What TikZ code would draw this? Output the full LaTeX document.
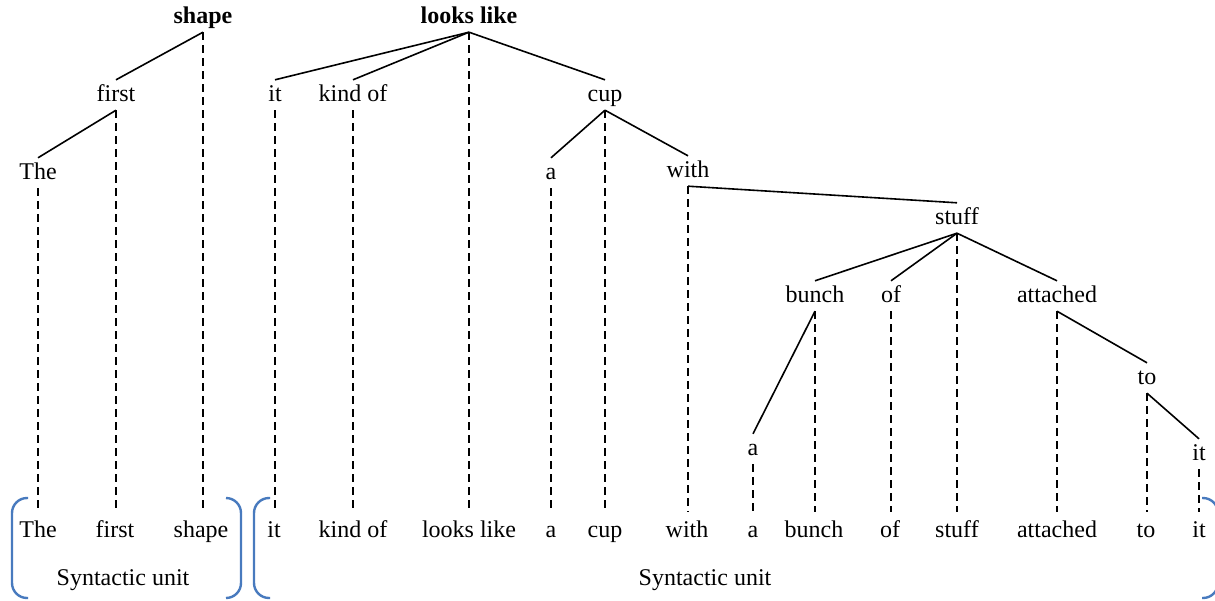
\documentclass[tikz,border=0pt]{standalone}
\usepackage{fontspec}
\setmainfont{Liberation Serif}
\definecolor{bracketblue}{RGB}{72,122,190}
\begin{document}
\begin{tikzpicture}[x=1pt,y=-1pt,
  w/.style={font=\fontsize{24}{28}\selectfont, anchor=base, inner xsep=0pt,
            inner ysep=4pt, text height=17pt, text depth=5pt},
  root/.style={w, font=\fontsize{24}{28}\selectfont\bfseries},
  leaf/.style={w, inner ysep=8pt},
  edge/.style={line width=1.6pt},
  proj/.style={line width=1.6pt, dash pattern=on 8pt off 5pt},
  unit/.style={draw=bracketblue, line width=2.4pt, rounded corners=15pt}]
\useasboundingbox (0,0) rectangle (1215,600);

% heads
\node[root] (shape) at (203,23) {shape};
\node[root] (looks) at (469,23) {looks like};
% dependents
\node[w] (first)    at (116,101) {first};
\node[w] (it1)      at (275,101) {it};
\node[w] (kind)     at (353,101) {kind of};
\node[w] (cup)      at (605,101) {cup};
\node[w] (the)      at (38,179)  {The};
\node[w] (a1)       at (551,179) {a};
\node[w] (with)     at (688,177) {with};
\node[w] (stuff)    at (957,224) {stuff};
\node[w] (bunch)    at (815,302) {bunch};
\node[w] (of)       at (891,302) {of};
\node[w] (attached) at (1057,302) {attached};
\node[w] (to)       at (1147,384) {to};
\node[w] (a2)       at (753,455) {a};
\node[w] (it2)      at (1199,460) {it};

% linear order of the sentence
\node[leaf] (Lthe)      at (38,537)   {The};
\node[leaf] (Lfirst)    at (115,537)  {first};
\node[leaf] (Lshape)    at (201,537)  {shape};
\node[leaf] (Lit1)      at (274,537)  {it};
\node[leaf] (Lkind)     at (353,537)  {kind of};
\node[leaf] (Llooks)    at (469,537)  {looks like};
\node[leaf] (La1)       at (551,537)  {a};
\node[leaf] (Lcup)      at (605,537)  {cup};
\node[leaf] (Lwith)     at (687,537)  {with};
\node[leaf] (La2)       at (753,537)  {a};
\node[leaf] (Lbunch)    at (814,537)  {bunch};
\node[leaf] (Lof)       at (890,537)  {of};
\node[leaf] (Lstuff)    at (957,537)  {stuff};
\node[leaf] (Lattached) at (1057,537) {attached};
\node[leaf] (Lto)       at (1146,537) {to};
\node[leaf] (Lit2)      at (1199,537) {it};

\node[w] (unitA) at (123,585) {Syntactic unit};
\node[w] (unitB) at (705,585) {Syntactic unit};

% dependency edges
\draw[edge] (shape.south) -- (first.north);
\draw[edge] (first.south) -- (the.north);
\draw[edge] (looks.south) -- (it1.north);
\draw[edge] (looks.south) -- (kind.north);
\draw[edge] (looks.south) -- (cup.north);
\draw[edge] (cup.south) -- (a1.north);
\draw[edge] (cup.south) -- (with.north);
\draw[edge] (with.south) -- (stuff.north);
\draw[edge] (stuff.south) -- (bunch.north);
\draw[edge] (stuff.south) -- (of.north);
\draw[edge] (stuff.south) -- (attached.north);
\draw[edge] (bunch.south) -- (a2.north);
\draw[edge] (attached.south) -- (to.north);
\draw[edge] (to.south) -- (it2.north);

% projection lines
\foreach \n/\l in {shape/Lshape, first/Lfirst, the/Lthe, looks/Llooks, it1/Lit1,
                   kind/Lkind, cup/Lcup, a1/La1, with/Lwith, stuff/Lstuff,
                   bunch/Lbunch, of/Lof, attached/Lattached, to/Lto, a2/La2, it2/Lit2}
  \draw[proj] (\n.south) -- (\n.south |- \l.north);

% brackets round the units
\draw[unit] (28,498) -- (12,498) -- (12,598) -- (28,598);
\draw[unit] (226,498) -- (241,498) -- (241,598) -- (226,598);
\draw[unit] (270,498) -- (254,498) -- (254,598) -- (270,598);
\draw[unit] (1202,498) -- (1218,498) -- (1218,598) -- (1202,598);
\end{tikzpicture}
\end{document}
